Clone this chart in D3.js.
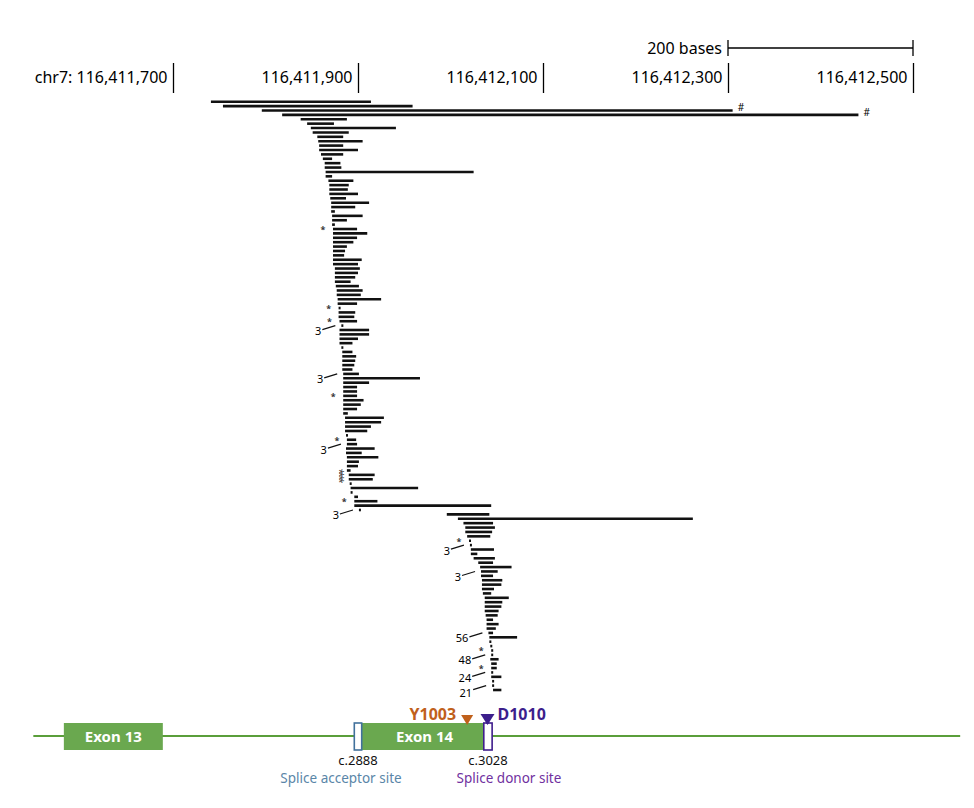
<!DOCTYPE html>
<html><head><meta charset="utf-8">
<script src="https://cdn.jsdelivr.net/npm/d3@7"></script>
<style>
body{margin:0;background:#fff;}
svg text{font-family:"Liberation Sans Narrow","Arial Narrow","Noto Sans",sans-serif;}
</style></head>
<body><svg id="c" width="974" height="808"></svg>
<script>
// ---- data ----
const chrom = "chr7";
const BASE = 116411700;
const tickValues = [116411700, 116411900, 116412100, 116412300, 116412500];
const scaleBarStart = 116412300, scaleBarEnd = 116412500;
// deletion rows (offsets from BASE, in bases), top to bottom
const delStart = [41,54,96,118,138,145,149,151,156,157,158,158,160,162,164,164,165,165,168,169,
 169,169,170,171,171,171,172,172,172,173,173,173,173,173,173,173,173,173,175,175,
 175,175,176,177,177,178,178,179,179,179,180,182,180,180,180,180,182,183,183,183,
 183,183,184,184,184,184,184,184,184,184,184,184,186,186,186,186,187,188,188,187,
 187,188,188,188,188,190,190,191,192,192,196,196,196,201,
 296,308,314,316,316,318,320,321,322,322,325,330,332,333,333,334,334,334,335,337,
 337,337,337,338,339,339,339,341,342,342,343,344,344,343,344,344,344,344,345,345,346];
const delEnd = [214,259,605,741,188,174,241,190,184,205,184,200,184,172,181,182,325,172,195,190,
 189,200,187,212,197,175,205,188,175,199,210,199,195,188,186,185,204,200,202,200,
 197,192,201,205,203,225,199,181,197,196,199,184,212,212,200,194,184,194,198,197,
 196,194,201,267,212,199,199,199,206,203,199,189,228,225,214,210,189,198,199,218,
 204,222,201,200,192,218,216,193,265,194,200,221,344,203,
 342,562,346,348,345,343,322,323,347,329,348,346,366,351,346,356,355,347,344,363,
 356,355,352,351,346,352,349,346,372,344,345,346,346,352,350,350,346,355,347,347,355];
// annotations (row numbers are 1-based)
const hashRows = [3, 4];
const starRows = [30, 48, 51, 68, 78, 92, 101, 126, 130];
const stackedStarRow = 86;
const stackedStarText = "****";
const countRows = [52, 63, 79, 94, 102, 108, 122, 127, 131, 134];
const countText = ["3", "3", "3", "3", "3", "3", "56", "48", "24", "21"];
// gene model (genomic positions)
const geneSpan = [116411549, 116412551];
const exonNames = ["Exon 13", "Exon 14"];
const exonStart = [116411582, 116411904];
const exonEnd = [116411689, 116412040];
const siteNames = ["Splice acceptor site", "Splice donor site"];
const siteCodes = ["c.2888", "c.3028"];
const siteStart = [116411896, 116412036];
const siteEnd = [116411904, 116412045];
const variantNames = ["Y1003", "D1010"];
const variantPos = [116412018, 116412040];

// ---- drawing ----
const svg = d3.select("#c");
const x = d3.scaleLinear().domain([116411700, 116412500]).range([173, 913]);
const n = delStart.length;
const y = d3.scaleLinear().domain([1, n]).range([101.7, 690]);
const rows = d3.range(n).map(i => ({i: i + 1, s: BASE + delStart[i], e: BASE + delEnd[i]}));

// top axis
const axis = d3.axisTop(x).tickValues(tickValues).tickSize(30)
  .tickFormat((d, i) => (i === 0 ? chrom + ": " : "") + d3.format(",")(d));
const ag = svg.append("g").attr("transform", "translate(0,93)").call(axis);
ag.select(".domain").remove();
ag.selectAll(".tick line").attr("stroke", "#000").attr("stroke-width", 1.3);
ag.selectAll(".tick text").attr("text-anchor", "end").attr("x", -6).attr("y", -10)
  .attr("fill", "#000").style("font-size", "16px")
  .style("font-family", '"Liberation Sans Narrow","Arial Narrow","Noto Sans",sans-serif');

// scale bar
const sb = svg.append("g");
sb.append("line").attr("x1", x(scaleBarStart)).attr("x2", x(scaleBarEnd)).attr("y1", 48).attr("y2", 48)
  .attr("stroke", "#000").attr("stroke-width", 1.3);
[scaleBarStart, scaleBarEnd].forEach(v => sb.append("line").attr("x1", x(v)).attr("x2", x(v))
  .attr("y1", 40).attr("y2", 56).attr("stroke", "#000").attr("stroke-width", 1.3));
sb.append("text").attr("x", x(scaleBarStart) - 6).attr("y", 54).attr("text-anchor", "end")
  .style("font-size", "16px").text("200 bases");

// deletion bars
svg.append("g").selectAll("line").data(rows).join("line")
  .attr("x1", d => x(d.s)).attr("x2", d => Math.max(x(d.e), x(d.s) + 2))
  .attr("y1", d => y(d.i)).attr("y2", d => y(d.i))
  .attr("stroke", "#111").attr("stroke-width", 2.6);

// '#' marks
svg.append("g").selectAll("text").data(hashRows).join("text")
  .attr("x", r => x(rows[r - 1].e) + 5).attr("y", r => y(r) + 1)
  .style("font-size", "10px").text("#");

// asterisks
svg.append("g").selectAll("text").data(starRows).join("text")
  .attr("x", r => x(rows[r - 1].s) - 10).attr("y", r => y(r) + 4)
  .attr("text-anchor", "middle").style("font-size", "9px").style("font-weight", "bold")
  .attr("fill", "#333").text("*");
// stacked asterisks, written vertically as one text
const sx0 = x(rows[stackedStarRow - 1].s) - 10, sy0 = y(stackedStarRow);
svg.append("text").attr("transform", `translate(${sx0 - 3},${sy0}) rotate(90)`)
  .attr("text-anchor", "middle").style("font-size", "10px").style("letter-spacing", "-2.5px")
  .attr("fill", "#444").text(stackedStarText);

// count labels with leader lines
countRows.forEach((r, k) => {
  const sx = x(rows[r - 1].s), yy = y(r);
  svg.append("line").attr("x1", sx - 19).attr("y1", yy + 4).attr("x2", sx - 6).attr("y2", yy)
    .attr("stroke", "#111").attr("stroke-width", 1.2);
  svg.append("text").attr("x", sx - 20).attr("y", yy + (k === countRows.length - 1 ? 11.5 : 9.5))
    .attr("text-anchor", "end").style("font-size", "11px").text(countText[k]);
});

// gene model
const gy = 736;
const gm = svg.append("g");
gm.append("line").attr("x1", x(geneSpan[0])).attr("x2", x(geneSpan[1])).attr("y1", gy).attr("y2", gy)
  .attr("stroke", "#5a9e3a").attr("stroke-width", 2);
exonNames.forEach((nm, i) => {
  gm.append("rect").attr("x", x(exonStart[i])).attr("y", gy - 13).attr("width", x(exonEnd[i]) - x(exonStart[i]))
    .attr("height", 27).attr("fill", "#6aa84f");
  gm.append("text").attr("x", (x(exonStart[i]) + x(exonEnd[i])) / 2).attr("y", gy + 6).attr("text-anchor", "middle")
    .attr("fill", "#fff").style("font-weight", "bold").style("font-size", "15px").text(nm);
});
const siteStroke = ["#41719c", "#3f1d8c"];
const siteTextCol = ["#5a86a8", "#7030a0"];
siteNames.forEach((nm, i) => {
  gm.append("rect").attr("x", x(siteStart[i])).attr("y", gy - 13).attr("width", x(siteEnd[i]) - x(siteStart[i]))
    .attr("height", 27).attr("fill", "#fff").attr("stroke", siteStroke[i]).attr("stroke-width", 1.6);
  const cx = (x(siteStart[i]) + x(siteEnd[i])) / 2;
  gm.append("text").attr("x", cx).attr("y", gy + 29).attr("text-anchor", "middle").attr("fill", "#111")
    .style("font-size", "13px").text(siteCodes[i]);
  gm.append("text").attr("x", cx + (i === 0 ? -17 : 21)).attr("y", gy + 47).attr("text-anchor", "middle").attr("fill", siteTextCol[i])
    .style("font-size", "13.5px").text(nm);
});
// variants
const varCol = ["#c0601b", "#3c1e8c"];
variantNames.forEach((nm, i) => {
  const vx = x(variantPos[i]);
  const top = i === 0 ? gy - 21 : gy - 22, h = i === 0 ? 10 : 11, w = i === 0 ? 6 : 7;
  gm.append("path").attr("d", `M${vx - w},${top}L${vx + w},${top}L${vx},${top + h}Z`).attr("fill", varCol[i]);
  if (i === 1) gm.append("line").attr("x1", vx).attr("x2", vx).attr("y1", top + h - 1).attr("y2", gy - 13)
    .attr("stroke", varCol[i]).attr("stroke-width", 2);
  gm.append("text").attr("x", i === 0 ? vx - 11 : vx + 10).attr("y", gy - 16)
    .attr("text-anchor", i === 0 ? "end" : "start").attr("fill", varCol[i])
    .style("font-weight", "bold").style("font-size", "16px").text(nm);
});
</script></body></html>
